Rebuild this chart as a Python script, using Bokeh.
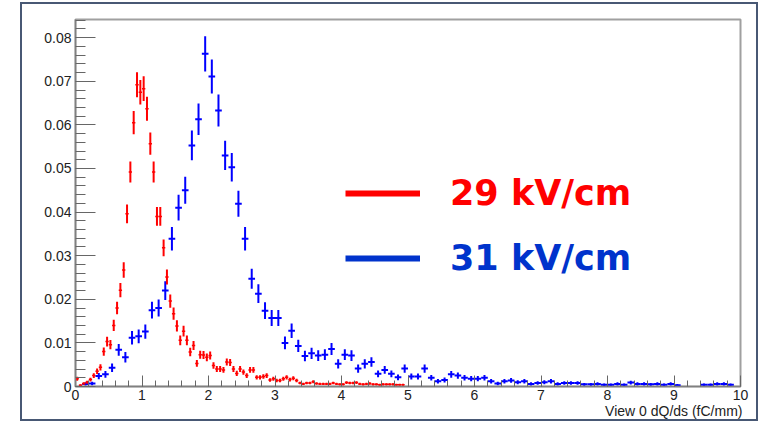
import numpy as np
from bokeh.plotting import figure
from bokeh.models import (FixedTicker, Legend, LegendItem, Title,
                          ColumnDataSource, Range1d)
from bokeh.embed import file_html
from bokeh.resources import INLINE

# ---------------- data ----------------
# 29 kV/cm : bins of 0.05 starting at 0 (values per bin, normalised)
red_values = [
    0.0018, 0.0003, 0.0007, 0.0010, 0.0016, 0.0025, 0.0035, 0.0044, 0.0080, 0.0103,
    0.0096, 0.0140, 0.0180, 0.0221, 0.0267, 0.0396, 0.0492, 0.0605, 0.0692, 0.0675,
    0.0683, 0.0637, 0.0557, 0.0492, 0.0390, 0.0390, 0.0318, 0.0251, 0.0196, 0.0167,
    0.0139, 0.0106, 0.0127, 0.0106, 0.0079, 0.0094, 0.0053, 0.0073, 0.0072, 0.0067,
    0.0071, 0.0048, 0.0040, 0.0040, 0.0038, 0.0056, 0.0055, 0.0040, 0.0030, 0.0040,
    0.0033, 0.0025, 0.0038, 0.0038, 0.0021, 0.0021, 0.0023, 0.0025, 0.0015, 0.0018,
    0.0014, 0.0014, 0.0018, 0.0021, 0.0016, 0.0019, 0.0014, 0.0008, 0.0006, 0.0008,
    0.0008, 0.0011, 0.0007, 0.0006, 0.0006, 0.0006, 0.0006, 0.0008, 0.0006, 0.0005,
    0.0005, 0.0009, 0.0008, 0.0008, 0.0009, 0.0006, 0.0005, 0.0006, 0.0007, 0.0005,
    0.0005, 0.0004, 0.0005, 0.0005, 0.0005, 0.0005, 0.0004, 0.0004, 0.0004, 0.0000,
]
red_bin_width = 0.05
red_entries = 8500

# 31 kV/cm : bins of 0.1 starting at 0
blue_values = [
    0.0000, 0.0006, 0.0007, 0.0024, 0.0028, 0.0043, 0.0084, 0.0067, 0.0112, 0.0115,
    0.0126, 0.0175, 0.0180, 0.0220, 0.0339, 0.0410, 0.0450, 0.0553, 0.0613, 0.0763,
    0.0711, 0.0633, 0.0530, 0.0503, 0.0419, 0.0339, 0.0247, 0.0213, 0.0174, 0.0157,
    0.0157, 0.0100, 0.0128, 0.0093, 0.0070, 0.0076, 0.0071, 0.0073, 0.0086, 0.0052,
    0.0073, 0.0071, 0.0041, 0.0052, 0.0056, 0.0029, 0.0038, 0.0029, 0.0021, 0.0041,
    0.0023, 0.0023, 0.0041, 0.0020, 0.0012, 0.0015, 0.0028, 0.0025, 0.0020, 0.0018,
    0.0018, 0.0020, 0.0012, 0.0007, 0.0012, 0.0014, 0.0010, 0.0012, 0.0006, 0.0008,
    0.0010, 0.0012, 0.0006, 0.0008, 0.0008, 0.0008, 0.0005, 0.0005, 0.0006, 0.0004,
    0.0004, 0.0006, 0.0004, 0.0009, 0.0006, 0.0006, 0.0005, 0.0006, 0.0004, 0.0006,
    0.0003, 0.0000, 0.0000, 0.0000, 0.0004, 0.0004, 0.0006, 0.0006, 0.0004, 0.0000,
]
blue_bin_width = 0.1
blue_entries = 4700

x_ticks = [0, 1, 2, 3, 4, 5, 6, 7, 8, 9, 10]
y_ticks = [0.0, 0.01, 0.02, 0.03, 0.04, 0.05, 0.06, 0.07, 0.08]
y_tick_overrides = {0: "0"}
legend_labels = ["29 kV/cm", "31 kV/cm"]
x_axis_title = "View 0 dQ/ds (fC/mm)"

RED = "#ff0000"
BLUE = "#0000ff"
LEG_RED = "#ff0000"
LEG_BLUE = "#0033cc"


def hist_source(values, width, entries):
    v = np.asarray(values, dtype=float)
    centers = width * (np.arange(len(v)) + 0.5)
    keep = v > 0
    v = v[keep]
    c = centers[keep]
    err = np.sqrt(v / entries)
    return ColumnDataSource(dict(x=c, xl=c - width / 2, xr=c + width / 2,
                                 y=v, lo=v - err, hi=v + err))


# the figure sits inside the slide frame (outline drawn by CSS on the figure box)
p = figure(width=738, height=419, output_backend="svg", toolbar_location=None,
           x_range=Range1d(0, 10), y_range=Range1d(0, 0.08417),
           min_border_left=55, min_border_right=18, min_border_top=17,
           min_border_bottom=35)
p.margin = (2, 0, 0, 20)
p.styles = {"outline": "2px solid #485874", "outline-offset": "-2px"}
p.grid.visible = False
p.background_fill_color = "white"
p.border_fill_color = None
p.outline_line_color = "#a0a0a0"
p.outline_line_width = 2

# axes
for ax in (p.xaxis[0], p.yaxis[0]):
    ax.axis_line_color = "#808080"
    ax.axis_line_width = 1.5
    ax.major_tick_line_color = "#666666"
    ax.minor_tick_line_color = "#666666"
    ax.major_tick_out = 0
    ax.minor_tick_out = 0
    ax.major_label_text_font = "Liberation Sans"
    ax.major_label_text_font_size = "14px"
    ax.major_label_text_color = "#222222"
    ax.major_label_standoff = 4

p.xaxis.major_label_standoff = 3
p.xaxis.ticker = FixedTicker(ticks=x_ticks, minor_ticks=[0.2 * k for k in range(51)])
p.xaxis.major_tick_in = 11
p.xaxis.minor_tick_in = 6
p.yaxis.ticker = FixedTicker(ticks=y_ticks, minor_ticks=[0.002 * k for k in range(43)])
p.yaxis.major_tick_in = 20
p.yaxis.minor_tick_in = 10
p.yaxis.major_label_overrides = y_tick_overrides

# ROOT-style axis title, right-aligned under the end of the x axis
title = Title(text=x_axis_title, align="right", text_font="Liberation Sans",
              text_font_size="14px", text_font_style="normal",
              text_color="#222222", standoff=0, offset=-2)
try:
    title.standoff = -4
except Exception:
    title.standoff = 0
p.add_layout(title, "below")

# histograms with error bars
bs = hist_source(blue_values, blue_bin_width, blue_entries)
p.segment(x0="x", y0="lo", x1="x", y1="hi", source=bs, line_color=BLUE, line_width=2)
p.segment(x0="xl", y0="y", x1="xr", y1="y", source=bs, line_color=BLUE, line_width=2)

rs = hist_source(red_values, red_bin_width, red_entries)
p.segment(x0="x", y0="lo", x1="x", y1="hi", source=rs, line_color=RED, line_width=2)
p.segment(x0="xl", y0="y", x1="xr", y1="y", source=rs, line_color=RED, line_width=1.5)

# legend swatches: hidden line renderers of each series (only shown in the legend)
r_leg_red = p.line(x="x", y="y", source=rs, line_color=LEG_RED, line_width=6, visible=False)
r_leg_blue = p.line(x="x", y="y", source=bs, line_color=LEG_BLUE, line_width=6, visible=False)
for lab, rend, col, loc in ((legend_labels[0], r_leg_red, LEG_RED, (270, 172)),
                            (legend_labels[1], r_leg_blue, LEG_BLUE, (270, 107))):
    leg = Legend(items=[LegendItem(label=lab, renderers=[rend])], location=loc,
                 glyph_width=75, glyph_height=42, label_height=42, label_standoff=30,
                 label_text_font="DejaVu Sans", label_text_font_style="bold",
                 label_text_font_size="35px", label_text_color=col,
                 border_line_alpha=0, background_fill_alpha=0,
                 inactive_fill_alpha=0, click_policy="none",
                 padding=0, margin=0, spacing=0)
    p.add_layout(leg)

open("out.html", "w").write(file_html(p, INLINE))
